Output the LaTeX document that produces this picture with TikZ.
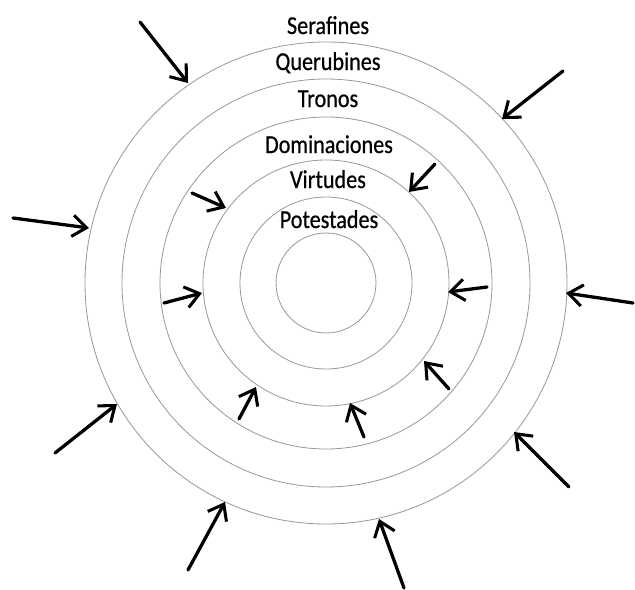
\documentclass[tikz,border=0pt]{standalone}
\usepackage{fontspec}
\setmainfont{Carlito}[FakeStretch=0.86, FakeBold=0.6]
\usetikzlibrary{arrows.meta}

\begin{document}
\begin{tikzpicture}[x=0.3mm, y=-0.3mm,
    circulo/.style={draw=black!40, line width=0.7pt},
    flecha/.style={line width=2.8pt, line cap=round,
      -{Straight Barb[length=4.2mm, width=6.4mm, line width=2.6pt]}},
    coro/.style={anchor=base, inner sep=0pt, font=\fontsize{22}{26}\selectfont}]
    \useasboundingbox (0,0) rectangle (635,590);
    % los seis circulos
    \coordinate (o) at (326,283);
    \draw[circulo] (o) circle (241);
    \draw[circulo] (o) circle (204);
    \draw[circulo] (o) circle (166);
    \draw[circulo] (o) circle (123);
    \draw[circulo] (o) circle (86);
    \draw[circulo] (o) circle (50);
    % coros
    \node[coro] (ser) at (328,34) {Serafines};
    \node[coro] (que) at (328,70) {Querubines};
    \node[coro] (tro) at (328,107) {Tronos};
    \node[coro] (dom) at (329,153) {Dominaciones};
    \node[coro] (vir) at (328,188) {Virtudes};
    \node[coro] (pot) at (329,228) {Potestades};
    % flechas exteriores
    \coordinate (a1) at (140,22);  \coordinate (b1) at (188,83);
    \coordinate (a2) at (563,71);  \coordinate (b2) at (502,119);
    \coordinate (a3) at (13,218);  \coordinate (b3) at (89,228);
    \coordinate (a4) at (633,303); \coordinate (b4) at (566,293);
    \coordinate (a5) at (55,453);  \coordinate (b5) at (117,404);
    \coordinate (a6) at (569,487); \coordinate (b6) at (514,432);
    \coordinate (a7) at (188,570); \coordinate (b7) at (225,502);
    \coordinate (a8) at (404,588); \coordinate (b8) at (379,519);
    \draw[flecha] (a1) -- (b1);
    \draw[flecha] (a2) -- (b2);
    \draw[flecha] (a3) -- (b3);
    \draw[flecha] (a4) -- (b4);
    \draw[flecha] (a5) -- (b5);
    \draw[flecha] (a6) -- (b6);
    \draw[flecha] (a7) -- (b7);
    \draw[flecha] (a8) -- (b8);
    % flechas interiores
    \coordinate (c1) at (192,193); \coordinate (d1) at (226,208);
    \coordinate (c2) at (435,164); \coordinate (d2) at (409,192);
    \coordinate (c3) at (164,303); \coordinate (d3) at (202,293);
    \coordinate (c4) at (487,287); \coordinate (d4) at (448,292);
    \coordinate (c5) at (239,419); \coordinate (d5) at (256,387);
    \coordinate (c6) at (449,389); \coordinate (d6) at (424,361);
    \coordinate (c7) at (364,437); \coordinate (d7) at (350,403);
    \draw[flecha] (c1) -- (d1);
    \draw[flecha] (c2) -- (d2);
    \draw[flecha] (c3) -- (d3);
    \draw[flecha] (c4) -- (d4);
    \draw[flecha] (c5) -- (d5);
    \draw[flecha] (c6) -- (d6);
    \draw[flecha] (c7) -- (d7);
\end{tikzpicture}
\end{document}
